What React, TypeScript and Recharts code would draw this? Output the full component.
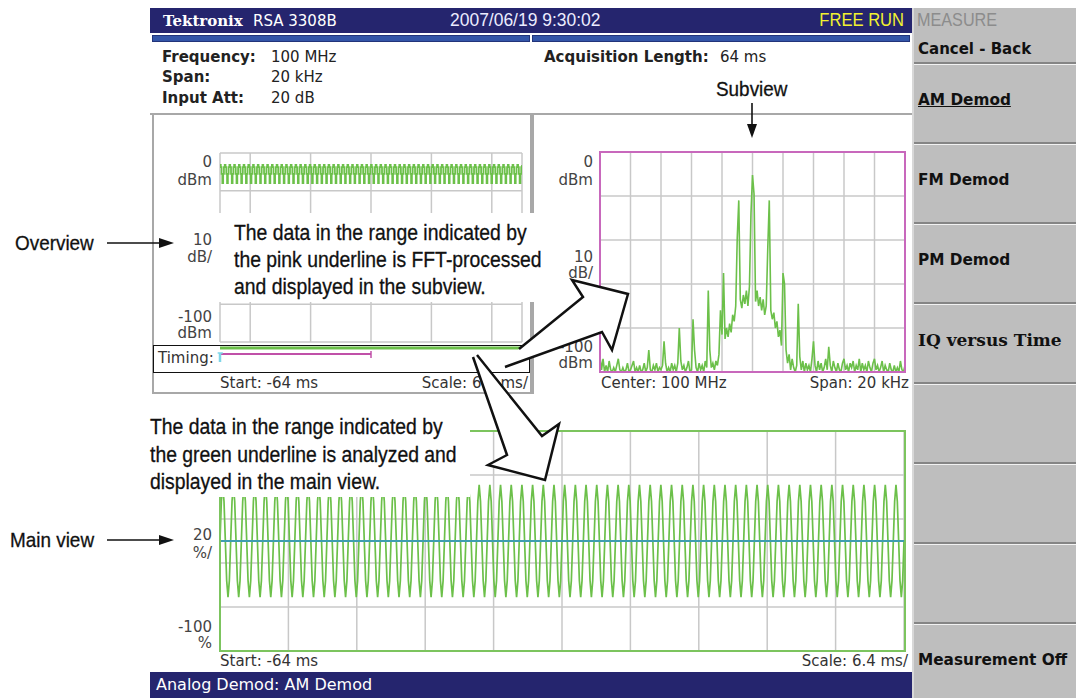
import React from 'react'
import { LineChart, Line, XAxis, YAxis, CartesianGrid, ReferenceLine } from 'recharts'

// 64 ms acquisition of a 1 kHz AM tone; one period
const acqStartMs = -64
const periodMs = 1
const cycles = 64
const overviewCycleDbm = [-6.3, -7.5, -11, -15.9, -11, -7.5]
const mainCyclePct = [0, 36, 51, 36, 0, -36, -51, -36]

const timeTicks = [-64, -57.6, -51.2, -44.8, -38.4, -32, -25.6, -19.2, -12.8, -6.4, 0]
const dbmTicks = [-100, -90, -80, -70, -60, -50, -40, -30, -20, -10, 0]
const pctTicks = [-100, -80, -60, -40, -20, 0, 20, 40, 60, 80, 100]
const freqTicks = [-10, -8, -6, -4, -2, 0, 2, 4, 6, 8, 10]

// subview spectrum, -10 kHz .. +10 kHz in 0.1 kHz bins (dBm)
const spanStartKHz = -10
const binKHz = 0.1
const spectrumDbm = [
  -93, -99, -94, -100, -97, -100, -95, -99, -100, -98,
  -100, -97, -94, -99, -100, -98, -100, -99, -96, -100,
  -99, -97, -95, -100, -98, -100, -97, -100, -99, -96,
  -100, -98, -90, -99, -100, -97, -99, -96, -100, -98,
  -99, -97, -86, -96, -100, -98, -100, -96, -99, -97,
  -100, -96, -80, -95, -99, -97, -100, -98, -95, -100,
  -99, -76, -90, -98, -100, -96, -99, -97, -100, -95,
  -98, -63, -90, -98, -96, -99, -95, -97, -92, -72,
  -83, -55, -85, -80, -84, -78, -82, -74, -77, -70,
  -39, -22, -67, -71, -65, -69, -63, -70, -61, -28,
  -10.5, -19, -68, -63, -70, -66, -72, -67, -74, -70,
  -44, -22, -72, -76, -73, -80, -77, -84, -81, -88,
  -55, -60, -90, -96, -92, -99, -94, -98, -100, -97,
  -69, -93, -99, -95, -100, -96, -99, -97, -100, -94,
  -86, -97, -100, -95, -99, -96, -100, -98, -94, -99,
  -88.5, -97, -100, -95, -98, -100, -96, -99, -100, -96,
  -94, -99, -97, -100, -96, -98, -95, -100, -97, -99,
  -94, -100, -96, -99, -97, -100, -95, -98, -100, -96,
  -94, -99, -97, -100, -98, -95, -100, -97, -99, -100,
  -96, -99, -100, -97, -100, -98, -100, -95, -99, -100,
  -97,
]

// timing strip: main view range (green) and FFT range (pink)
const mainRangeMs = [-64, 0]
const fftRangeMs = [-64, -32]

const menuItems = ['AM Demod', 'FM Demod', 'PM Demod', 'IQ versus Time', '', '', '', 'Measurement Off']

const GREEN = '#6cc04a'
const GRID = '#c8c8c8'
const NAVY = '#25256e'
const PINK = '#c868bc'
const TEAL = '#3f9db0'
const UI = "'DejaVu Sans', Verdana, sans-serif"
const SANS = "'Liberation Sans', Arial, sans-serif"
const SERIF = "'DejaVu Serif', serif"

const buildTrace = (cycle: number[]) =>
  Array.from({ length: cycles * cycle.length + 1 }, (_, k) => ({
    x: acqStartMs + (k * periodMs) / cycle.length,
    v: cycle[k % cycle.length],
  }))

const overviewData = buildTrace(overviewCycleDbm)
const mainData = buildTrace(mainCyclePct)
const spectrumData = spectrumDbm.map((v, i) => ({ x: spanStartKHz + i * binKHz, v }))
const timingData = [
  { x: mainRangeMs[0], main: 3, fft: 9 },
  { x: fftRangeMs[1], main: 3, fft: 9 },
  { x: mainRangeMs[1], main: 3, fft: null },
]

type PlotProps = {
  x: number
  y: number
  w: number
  h: number
  data: { x: number; v: number }[]
  xDomain: number[]
  yDomain: number[]
  xTicks: number[]
  yTicks: number[]
  lineWidth?: number
  step?: boolean
  children?: React.ReactNode
}

function Plot({ x, y, w, h, data, xDomain, yDomain, xTicks, yTicks, lineWidth = 1.5, step = false, children }: PlotProps) {
  const pad = 2
  return (
    <div style={{ position: 'absolute', left: x - pad, top: y - pad }}>
      <LineChart
        width={w + pad * 2}
        height={h + pad * 2}
        data={data}
        margin={{ top: pad, right: pad, bottom: pad, left: pad }}
      >
        <CartesianGrid stroke={GRID} strokeWidth={1.5} />
        <XAxis dataKey="x" type="number" domain={xDomain} ticks={xTicks} hide allowDataOverflow />
        <YAxis type="number" domain={yDomain} ticks={yTicks} hide allowDataOverflow />
        <Line
          dataKey="v"
          type={step ? 'stepAfter' : 'linear'}
          stroke={GREEN}
          strokeWidth={lineWidth}
          dot={false}
          isAnimationActive={false}
        />
        {children}
      </LineChart>
    </div>
  )
}

type TxtProps = {
  x: number
  cy: number
  children: React.ReactNode
  size?: number
  weight?: number
  color?: string
  right?: boolean
  family?: string
  sx?: number
  underline?: boolean
}

function Txt({ x, cy, children, size = 15, weight = 400, color = '#222', right = false, family = UI, sx = 1, underline = false }: TxtProps) {
  const style: React.CSSProperties = {
    position: 'absolute',
    top: cy - size * 0.6,
    fontSize: size,
    lineHeight: `${size * 1.2}px`,
    fontFamily: family,
    fontWeight: weight,
    color,
    whiteSpace: 'nowrap',
    textDecoration: underline ? 'underline' : 'none',
  }
  if (right) {
    style.right = 1076 - x
    style.transformOrigin = 'right center'
  } else {
    style.left = x
    style.transformOrigin = 'left center'
  }
  if (sx !== 1) style.transform = `scaleX(${sx})`
  return <div style={style}>{children}</div>
}

// callout text placed by baseline
function Note({ x, base, children, size = 21.5 }: { x: number; base: number; children: React.ReactNode; size?: number }) {
  return (
    <div
      style={{
        position: 'absolute',
        left: x,
        top: base - size * 0.947,
        fontSize: size,
        lineHeight: `${size * 1.2}px`,
        fontFamily: SANS,
        color: '#111',
        whiteSpace: 'nowrap',
        transform: 'scaleX(0.9)',
        transformOrigin: 'left center',
        WebkitTextStroke: '0.3px #111',
      }}
    >
      {children}
    </div>
  )
}

function Box({ l, t, w, h, style }: { l: number; t: number; w: number; h: number; style?: React.CSSProperties }) {
  return <div style={{ position: 'absolute', left: l, top: t, width: w, height: h, boxSizing: 'border-box', ...style }} />
}

export default function App() {
  return (
    <div style={{ position: 'absolute', left: 0, top: 0, width: 1076, height: 698, background: '#fff', overflow: 'hidden' }}>
      {/* title bar */}
      <Box l={150} t={8} w={762} h={25} style={{ background: NAVY }} />
      <Txt x={163} cy={21} size={15} weight={700} family={SERIF} color="#fff">Tektronix</Txt>
      <Txt x={253} cy={21} size={15} color="#fff">RSA 3308B</Txt>
      <Txt x={450} cy={21} size={18} family={SANS} sx={0.97} color="#ececff">2007/06/19 9:30:02</Txt>
      <Txt x={904} cy={21} size={18} family={SANS} sx={0.92} color="#f2f230" right>FREE RUN</Txt>
      <Box l={152} t={35} w={378} h={7} style={{ background: '#3355a8', border: '1px solid #22347a' }} />
      <Box l={532} t={35} w={378} h={7} style={{ background: '#3355a8', border: '1px solid #22347a' }} />

      {/* settings */}
      <Txt x={162} cy={57} weight={700}>Frequency:</Txt>
      <Txt x={271} cy={57}>100 MHz</Txt>
      <Txt x={162} cy={77} weight={700}>Span:</Txt>
      <Txt x={271} cy={77}>20 kHz</Txt>
      <Txt x={162} cy={98} weight={700}>Input Att:</Txt>
      <Txt x={271} cy={98}>20 dB</Txt>
      <Txt x={544} cy={57} weight={700}>Acquisition Length:</Txt>
      <Txt x={720} cy={57}>64 ms</Txt>

      {/* panels */}
      <Box l={150} t={113} w={762} h={2} style={{ background: '#a8a8a8' }} />
      <Box l={152} t={114} w={380} h={280} style={{ borderLeft: '2px solid #a8a8a8', borderRight: '2px solid #a8a8a8', borderBottom: '2px solid #a8a8a8' }} />
      <Box l={532} t={114} w={2} h={280} style={{ background: '#a8a8a8' }} />

      {/* overview */}
      <Plot x={220} y={153} w={302} h={189} data={overviewData} xDomain={[-64, 0]} yDomain={[-100, 0]} xTicks={timeTicks} yTicks={dbmTicks} lineWidth={1.8} step />
      <Txt x={212} cy={162} right color="#444">0</Txt>
      <Txt x={212} cy={180} right color="#444">dBm</Txt>
      <Txt x={212} cy={240} right color="#444">10</Txt>
      <Txt x={212} cy={257} right color="#444">dB/</Txt>
      <Txt x={212} cy={317} right color="#444">-100</Txt>
      <Txt x={212} cy={333} right color="#444">dBm</Txt>
      <Box l={153} t={345} w={377} h={28} style={{ border: '1.5px solid #111', background: '#fff' }} />
      <Txt x={158} cy={358} color="#333">Timing:</Txt>
      <div style={{ position: 'absolute', left: 217, top: 345 }}>
        <LineChart width={308} height={20} data={timingData} margin={{ top: 0, right: 3, bottom: 0, left: 3 }}>
          <XAxis dataKey="x" type="number" domain={[-64, 0]} hide />
          <YAxis type="number" domain={[0, 20]} reversed hide />
          <Line dataKey="main" stroke={GREEN} strokeWidth={3} dot={false} isAnimationActive={false} />
          <Line dataKey="fft" stroke="#c050a8" strokeWidth={2} dot={false} isAnimationActive={false} />
          <ReferenceLine segment={[{ x: fftRangeMs[1], y: 6 }, { x: fftRangeMs[1], y: 13 }]} stroke="#c050a8" strokeWidth={1.5} ifOverflow="visible" />
          <ReferenceLine segment={[{ x: fftRangeMs[0], y: 8 }, { x: fftRangeMs[0], y: 17 }]} stroke="#7fd6e8" strokeWidth={2.5} ifOverflow="visible" />
          <ReferenceLine segment={[{ x: -64.5, y: 8 }, { x: -63.4, y: 8 }]} stroke="#7fd6e8" strokeWidth={1.5} ifOverflow="visible" />
        </LineChart>
      </div>
      <Txt x={220} cy={383} color="#333">Start: -64 ms</Txt>
      <Txt x={528} cy={383} right color="#333">Scale: 6.4 ms/</Txt>

      {/* subview */}
      <Plot x={600} y={152} w={305} h={220} data={spectrumData} xDomain={[-10, 10]} yDomain={[-100, 0]} xTicks={freqTicks} yTicks={dbmTicks} lineWidth={1.6} />
      <Box l={599} t={151} w={307} h={222} style={{ border: `2px solid ${PINK}` }} />
      <Txt x={593} cy={162} right color="#444">0</Txt>
      <Txt x={593} cy={180} right color="#444">dBm</Txt>
      <Txt x={593} cy={257} right color="#444">10</Txt>
      <Txt x={593} cy={273} right color="#444">dB/</Txt>
      <Txt x={593} cy={347} right color="#444">-100</Txt>
      <Txt x={593} cy={363} right color="#444">dBm</Txt>
      <Txt x={601} cy={383} color="#333">Center: 100 MHz</Txt>
      <Txt x={909} cy={383} right color="#333">Span: 20 kHz</Txt>

      {/* main view */}
      <Plot x={220} y={431} w={684} h={220} data={mainData} xDomain={[-64, 0]} yDomain={[-100, 100]} xTicks={timeTicks} yTicks={pctTicks} lineWidth={1.7}>
        <ReferenceLine y={0} stroke={TEAL} strokeWidth={2} />
      </Plot>
      <Box l={219} t={430} w={687} h={222} style={{ border: '2px solid #7cc45e' }} />
      <Txt x={212} cy={535} right color="#444">20</Txt>
      <Txt x={212} cy={553} right color="#444">%/</Txt>
      <Txt x={212} cy={627} right color="#444">-100</Txt>
      <Txt x={212} cy={643} right color="#444">%</Txt>
      <Txt x={220} cy={661} color="#333">Start: -64 ms</Txt>
      <Txt x={908} cy={661} right color="#333">Scale: 6.4 ms/</Txt>

      {/* status bar */}
      <Box l={150} t={672} w={762} h={26} style={{ background: NAVY }} />
      <Txt x={156} cy={685} size={16} color="#fff">Analog Demod: AM Demod</Txt>

      {/* side menu */}
      <Box l={912} t={8} w={164} h={690} style={{ background: '#bebebe', borderLeft: '2px solid #d8d8d8' }} />
      <Txt x={917} cy={21} size={18} family={SANS} sx={0.9} color="#8c8c8c">MEASURE</Txt>
      <Txt x={918} cy={49} weight={700} color="#111">Cancel - Back</Txt>
      {menuItems.map((label, i) => (
        <React.Fragment key={i}>
          <Box l={914} t={62 + i * 80} w={162} h={3} style={{ borderTop: '2px solid #858585', borderBottom: '1px solid #f2f2f2' }} />
          {label && (
            <Txt
              x={918}
              cy={100 + i * 80}
              size={label === 'IQ versus Time' ? 17 : 15.3}
              weight={700}
              family={label === 'IQ versus Time' ? SERIF : UI}
              color="#111"
              underline={i === 0}
            >
              {label}
            </Txt>
          )}
        </React.Fragment>
      ))}

      {/* callouts */}
      <Box l={218} t={213} w={327} h={89} style={{ background: '#fff' }} />
      <Note x={234} base={241.7}>The data in the range indicated by</Note>
      <Note x={234} base={268.3}>the pink underline is FFT-processed</Note>
      <Note x={234} base={295}>and displayed in the subview.</Note>
      <Box l={145} t={413} w={325} h={84} style={{ background: '#fff' }} />
      <Note x={150} base={435.7}>The data in the range indicated by</Note>
      <Note x={150} base={463.3}>the green underline is analyzed and</Note>
      <Note x={150} base={490}>displayed in the main view.</Note>
      <Note x={15} base={250} size={21}>Overview</Note>
      <Note x={10} base={547} size={21}>Main view</Note>
      <Note x={716} base={96} size={21}>Subview</Note>

      <svg width={1076} height={698} style={{ position: 'absolute', left: 0, top: 0, pointerEvents: 'none' }}>
        <line x1={107} y1={243} x2={162} y2={243} stroke="#111" strokeWidth={1.6} />
        <polygon points="174,243 159,238 159,248" fill="#111" />
        <line x1={107} y1={540} x2={162} y2={540} stroke="#111" strokeWidth={1.6} />
        <polygon points="174,540 159,535 159,545" fill="#111" />
        <line x1={752} y1={103} x2={752} y2={126} stroke="#111" strokeWidth={1.6} />
        <polygon points="752,138 747,124 757,124" fill="#111" />

        <polygon points="519,349 583,297 572,280 628,294 612,350 602,332 505,367" fill="#fff" />
        <polyline points="519,349 583,297 572,280 628,294 612,350 602,332 505,367" fill="none" stroke="#111" strokeWidth={2.5} strokeLinejoin="miter" />
        <polygon points="477,355 542,436 559,424 545,480 488,465 507,455 473,357" fill="#fff" />
        <polyline points="477,355 542,436 559,424 545,480 488,465 507,455 473,357" fill="none" stroke="#111" strokeWidth={2.5} strokeLinejoin="miter" />
      </svg>
    </div>
  )
}
